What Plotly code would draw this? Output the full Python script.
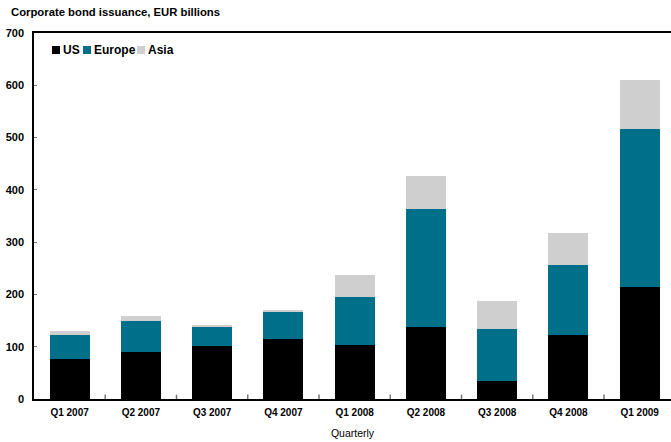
import plotly.graph_objects as go

quarters = ["Q1 2007", "Q2 2007", "Q3 2007", "Q4 2007", "Q1 2008",
            "Q2 2008", "Q3 2008", "Q4 2008", "Q1 2009"]
us = [76.5, 90, 101, 115, 103, 138, 34, 122, 214]
europe = [46, 59, 36, 52, 92, 225, 100, 134, 302]
asia = [8, 10, 4, 4, 42, 63, 53, 61, 94]

series = [("US", us, "#000000"),
          ("Europe", europe, "#00708A"),
          ("Asia", asia, "#CFCFCF")]

FONT = "Liberation Sans, Arial, sans-serif"

W, H = 671, 442
ML, MR, MT, MB = 34, 0, 33, 43
PW, PH = W - ML - MR, H - MT - MB


def px_x(x):
    return (x - ML) / PW


def px_y(y):
    return (H - MB - y) / PH


fig = go.Figure()
for name, vals, color in series:
    fig.add_trace(go.Bar(x=list(range(len(quarters))), y=vals, name=name,
                         marker=dict(color=color, line=dict(width=0)),
                         width=0.56, showlegend=False))

fig.update_layout(
    barmode="stack",
    width=W, height=H,
    margin=dict(l=ML, r=MR, t=MT, b=MB),
    plot_bgcolor="white", paper_bgcolor="white",
    font=dict(family=FONT, size=11, color="#000000"),
    xaxis=dict(
        range=[-0.5, 8.44],
        tickmode="array", tickvals=list(range(len(quarters))), ticktext=quarters,
        ticks="", showgrid=False, zeroline=False,
        showline=True, linecolor="#000000", linewidth=1.5, mirror=True,
        tickfont=dict(family=FONT, size=10, weight="bold"),
        ticklabelstandoff=3,
        title=dict(text="Quarterly", font=dict(family=FONT, size=10.5), standoff=13),
        automargin=False,
    ),
    yaxis=dict(
        range=[0, 700], dtick=100,
        ticks="inside", ticklen=3, tickcolor="#777777",
        showgrid=False, zeroline=False,
        showline=True, linecolor="#000000", linewidth=1.5, mirror=False,
        tickfont=dict(family=FONT, size=11, weight="bold"),
        ticklabelstandoff=6, automargin=False,
    ),
)

# short inside ticks marking the boundaries between quarters
for k in range(len(quarters) - 1):
    fig.add_shape(type="line", xref="x", yref="paper",
                  x0=k + 0.5, x1=k + 0.5, y0=0, y1=0.012,
                  line=dict(color="#777777", width=1.5))

# compact legend: small square swatch followed by the series name
legend_x = [52, 83, 137]
for (name, _, color), lx in zip(series, legend_x):
    fig.add_shape(type="rect", xref="paper", yref="paper",
                  x0=px_x(lx), x1=px_x(lx + 8), y0=px_y(54), y1=px_y(46),
                  fillcolor=color, line=dict(width=0))
    fig.add_annotation(text=name, xref="paper", yref="paper",
                       x=px_x(lx + 9), y=px_y(50), xanchor="left", yanchor="middle",
                       showarrow=False,
                       font=dict(family=FONT, size=12, weight="bold"))

fig.add_annotation(text="Corporate bond issuance, EUR billions",
                   xref="paper", yref="paper", x=px_x(9), y=px_y(12),
                   xanchor="left", yanchor="middle", showarrow=False,
                   font=dict(family=FONT, size=11.3, weight="bold"))

fig.write_html("out.html")
